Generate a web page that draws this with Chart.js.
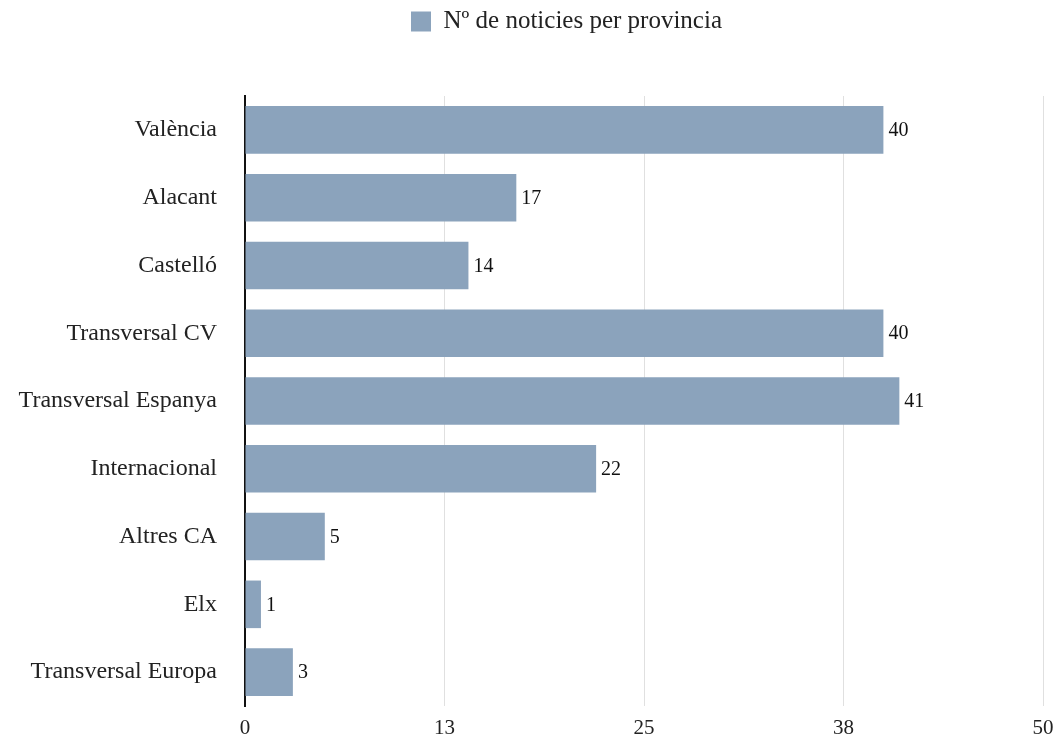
<!DOCTYPE html>
<html>
<head>
<meta charset="utf-8">
<style>
    html, body {margin: 0; padding: 0; background: #fff;}
</style>
<script src="https://cdn.jsdelivr.net/npm/chart.js@4/dist/chart.umd.min.js"></script>
</head>
<body>
<canvas id="chart" width="1057" height="739"></canvas>
<script>

    // valors llegits del gràfic
    const provincies = ["València", "Alacant", "Castelló", "Transversal CV", "Transversal Espanya",
        "Internacional", "Altres CA", "Elx", "Transversal Europa"];
    const noticies = [40, 17, 14, 40, 41, 22, 5, 1, 3];
    const tickValues = [0, 12.5, 25, 37.5, 50];
    const serieLabel = "Nº de noticies per provincia";

    const barColor = "#8ba3bc";
    const fontFamily = "'Liberation Serif', 'Times New Roman', serif";

    // etiqueta amb el valor al final de cada barra
    const valueLabels = {
        id: "valueLabels",
        afterDatasetsDraw(chart) {
            const ctx = chart.ctx;
            const meta = chart.getDatasetMeta(0);
            ctx.save();
            ctx.font = "20px " + fontFamily;
            ctx.fillStyle = "#111";
            ctx.textAlign = "left";
            ctx.textBaseline = "middle";
            meta.data.forEach(function (bar, i) {
                ctx.fillText(String(noticies[i]), bar.x + 5, bar.y + 1);
            });
            ctx.restore();
        }
    };

    // la llegenda queda una mica desplaçada a la dreta
    const legendTweak = {
        id: "legendTweak",
        beforeInit(chart) {
            const fit = chart.legend.fit;
            chart.legend.fit = function () {
                fit.call(this);
                this.height += 51;
            };
        },
        afterLayout(chart) {
            chart.legend.left += 45;
            chart.legend.right += 45;
            chart.legend.top -= 1;
        }
    };

    new Chart(document.getElementById("chart"), {
        type: "bar",
        data: {
            labels: provincies,
            datasets: [{
                label: serieLabel,
                data: noticies,
                backgroundColor: barColor,
                borderWidth: 0,
                barPercentage: 0.78,
                categoryPercentage: 0.9
            }]
        },
        options: {
            indexAxis: "y",
            responsive: false,
            animation: false,
            layout: {padding: {top: 0, right: 14, bottom: 0, left: 0}},
            plugins: {
                legend: {
                    labels: {
                        boxWidth: 20,
                        boxHeight: 20,
                        color: "#222",
                        padding: 10,
                        font: {family: fontFamily, size: 25}
                    }
                },
                tooltip: {enabled: false}
            },
            scales: {
                x: {
                    min: 0,
                    max: 50,
                    afterBuildTicks(scale) {
                        scale.ticks = tickValues.map(v => ({value: v}));
                    },
                    afterFit(scale) {
                        scale.height = 33;
                        scale.paddingLeft = 0;
                        scale.paddingRight = 0;
                    },
                    grid: {color: "#e0e0e0", drawTicks: false},
                    border: {display: false},
                    ticks: {
                        color: "#222",
                        padding: 10,
                        maxRotation: 0,
                        font: {family: fontFamily, size: 21},
                        callback: v => Math.round(v)
                    }
                },
                y: {
                    afterFit(scale) {
                        scale.width = 245;
                        scale.paddingTop = 0;
                        scale.paddingBottom = 0;
                    },
                    grid: {display: false, drawTicks: false},
                    border: {display: true, color: "#111", width: 2},
                    ticks: {
                        color: "#222",
                        padding: 28,
                        font: {family: fontFamily, size: 24}
                    }
                }
            }
        },
        plugins: [valueLabels, legendTweak]
    });

</script>
</body>
</html>
